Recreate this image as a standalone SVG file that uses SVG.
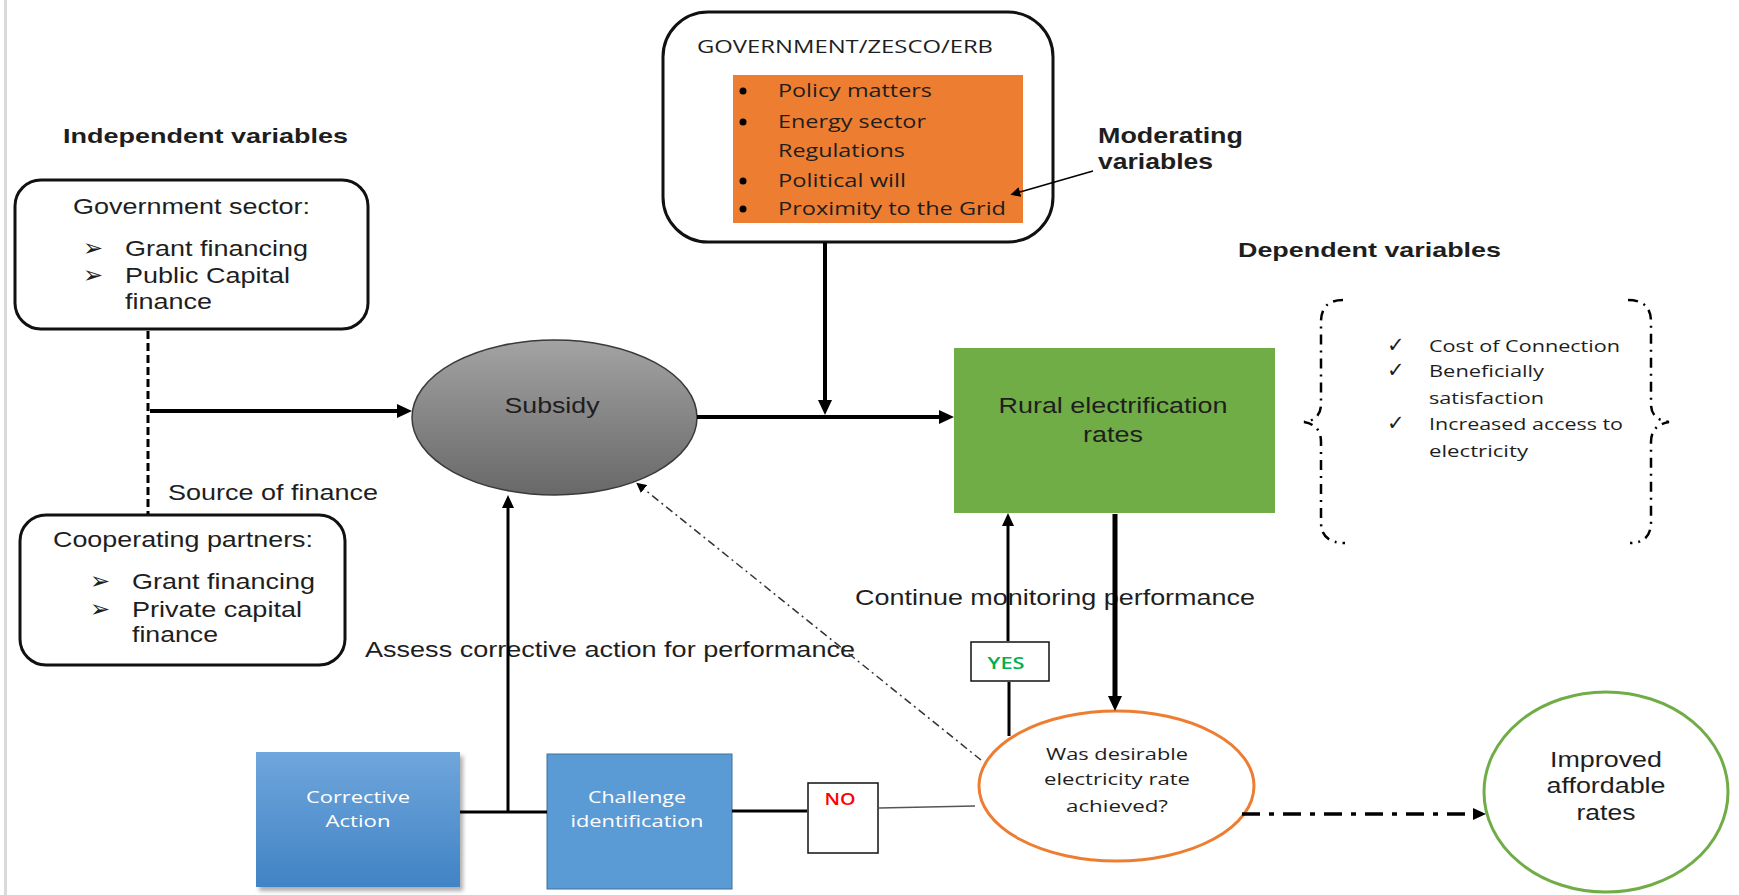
<svg xmlns="http://www.w3.org/2000/svg" width="1739" height="895" viewBox="0 0 1739 895">
<style>
.sans{font-family:"Liberation Sans",Arial,sans-serif;fill:#1e1e1e}
.bold{font-family:"Liberation Sans",Arial,sans-serif;font-weight:bold;fill:#1e1e1e}
.os{font-family:"Open Sans","DejaVu Sans",sans-serif;fill:#1e1e1e}
.sym{font-family:"DejaVu Sans",sans-serif;fill:#1e1e1e}
.box{fill:#fff;stroke:#111;stroke-width:3}
.wire{fill:none;stroke:#000}
</style>
<defs>
<marker id="ahL" markerUnits="userSpaceOnUse" markerWidth="16" markerHeight="14" refX="0" refY="7" orient="auto"><path d="M0,0 L15,7 L0,14 z" fill="#000"/></marker>
<marker id="ahM" markerUnits="userSpaceOnUse" markerWidth="14" markerHeight="12" refX="0" refY="6" orient="auto"><path d="M0,0 L13,6 L0,12 z" fill="#000"/></marker>
<marker id="ahS" markerUnits="userSpaceOnUse" markerWidth="11" markerHeight="10" refX="0" refY="5" orient="auto"><path d="M0,0 L10,5 L0,10 z" fill="#000"/></marker>
<linearGradient id="gGray" x1="0" y1="0" x2="0" y2="1"><stop offset="0" stop-color="#a3a3a3"/><stop offset="1" stop-color="#686868"/></linearGradient>
<linearGradient id="gBlue" x1="0" y1="0" x2="0" y2="1"><stop offset="0" stop-color="#6fa6dc"/><stop offset="1" stop-color="#4183c5"/></linearGradient>
<filter id="shadow" x="-10%" y="-10%" width="130%" height="130%"><feGaussianBlur stdDeviation="2"/></filter>
</defs>
<rect x="0" y="0" width="1739" height="895" fill="#fff"/>
<rect x="4" y="0" width="3" height="895" fill="#dadada"/>

<!-- headings -->
<text class="bold" x="63" y="143" font-size="21" textLength="285" lengthAdjust="spacingAndGlyphs">Independent variables</text>
<text class="bold" x="1098" y="143" font-size="22" textLength="145" lengthAdjust="spacingAndGlyphs">Moderating</text>
<text class="bold" x="1098" y="169" font-size="22" textLength="115" lengthAdjust="spacingAndGlyphs">variables</text>
<text class="bold" x="1238" y="257" font-size="21" textLength="263" lengthAdjust="spacingAndGlyphs">Dependent variables</text>
<text class="sans" x="168" y="500" font-size="22" textLength="210" lengthAdjust="spacingAndGlyphs">Source of finance</text>
<text class="sans" x="365" y="657" font-size="22" textLength="490" lengthAdjust="spacingAndGlyphs">Assess corrective action for performance</text>
<text class="sans" x="855" y="605" font-size="22" textLength="400" lengthAdjust="spacingAndGlyphs">Continue monitoring performance</text>

<g id="gov-zesco">
<rect class="box" x="663" y="12" width="390" height="230" rx="45"/>
<text class="os" x="697" y="53" font-size="19" fill="#262626" textLength="296" lengthAdjust="spacingAndGlyphs">GOVERNMENT/ZESCO/ERB</text>
<rect x="733" y="75" width="290" height="148" fill="#ed7d31"/>
<circle cx="743" cy="91" r="3.5" fill="#000"/>
<circle cx="743" cy="122" r="3.5" fill="#000"/>
<circle cx="743" cy="181" r="3.5" fill="#000"/>
<circle cx="743" cy="209" r="3.5" fill="#000"/>
<text class="os" x="778" y="97" font-size="19" textLength="154" lengthAdjust="spacingAndGlyphs">Policy matters</text>
<text class="os" x="778" y="128" font-size="19" textLength="148" lengthAdjust="spacingAndGlyphs">Energy sector</text>
<text class="os" x="778" y="157" font-size="19" textLength="127" lengthAdjust="spacingAndGlyphs">Regulations</text>
<text class="os" x="778" y="187" font-size="19" textLength="128" lengthAdjust="spacingAndGlyphs">Political will</text>
<text class="os" x="778" y="215" font-size="19" textLength="228" lengthAdjust="spacingAndGlyphs">Proximity to the Grid</text>
</g>

<g id="gov-sector">
<rect class="box" x="15" y="180" width="353" height="149" rx="26"/>
<text class="sans" x="73" y="214" font-size="22" textLength="237" lengthAdjust="spacingAndGlyphs">Government sector:</text>
<text class="sym" x="83" y="256" font-size="24">➢</text>
<text class="sym" x="83" y="283" font-size="24">➢</text>
<text class="sans" x="125" y="256" font-size="22" textLength="183" lengthAdjust="spacingAndGlyphs">Grant financing</text>
<text class="sans" x="125" y="283" font-size="22" textLength="165" lengthAdjust="spacingAndGlyphs">Public Capital</text>
<text class="sans" x="125" y="309" font-size="22" textLength="87" lengthAdjust="spacingAndGlyphs">finance</text>
</g>

<g id="coop-partners">
<rect class="box" x="20" y="515" width="325" height="150" rx="26"/>
<text class="sans" x="53" y="547" font-size="22" textLength="260" lengthAdjust="spacingAndGlyphs">Cooperating partners:</text>
<text class="sym" x="90" y="589" font-size="24">➢</text>
<text class="sym" x="90" y="617" font-size="24">➢</text>
<text class="sans" x="132" y="589" font-size="22" textLength="183" lengthAdjust="spacingAndGlyphs">Grant financing</text>
<text class="sans" x="132" y="617" font-size="22" textLength="170" lengthAdjust="spacingAndGlyphs">Private capital</text>
<text class="sans" x="132" y="642" font-size="22" textLength="86" lengthAdjust="spacingAndGlyphs">finance</text>
</g>

<g id="subsidy">
<ellipse cx="554.5" cy="417.5" rx="142.5" ry="77.5" fill="url(#gGray)" stroke="#3a3a3a" stroke-width="1.5"/>
<text class="sans" x="552" y="413" font-size="22" text-anchor="middle" textLength="95" lengthAdjust="spacingAndGlyphs">Subsidy</text>
</g>

<g id="rural-electrification">
<rect x="954" y="348" width="321" height="165" fill="#70ad47"/>
<text class="sans" x="1113" y="413" font-size="22" text-anchor="middle" textLength="229" lengthAdjust="spacingAndGlyphs">Rural electrification</text>
<text class="sans" x="1113" y="442" font-size="22" text-anchor="middle" textLength="60" lengthAdjust="spacingAndGlyphs">rates</text>
</g>

<g id="dependent-list">
<path d="M1343,300 Q1321,300 1321,322 L1321,404 Q1321,420 1304,422 Q1321,425 1321,442 L1321,522 Q1321,543 1345,543" fill="none" stroke="#000" stroke-width="2.5" stroke-dasharray="10 6 2 6"/>
<path d="M1628,300 Q1651,300 1651,322 L1651,404 Q1651,420 1669,422 Q1651,425 1651,442 L1651,522 Q1651,543 1630,543" fill="none" stroke="#000" stroke-width="2.5" stroke-dasharray="10 6 2 6"/>
<text class="sym" x="1387" y="352" font-size="21">✓</text>
<text class="sym" x="1387" y="377" font-size="21">✓</text>
<text class="sym" x="1387" y="430" font-size="21">✓</text>
<text class="os" x="1429" y="352" font-size="16" textLength="191" lengthAdjust="spacingAndGlyphs">Cost of Connection</text>
<text class="os" x="1429" y="377" font-size="16" textLength="115" lengthAdjust="spacingAndGlyphs">Beneficially</text>
<text class="os" x="1429" y="404" font-size="16" textLength="115" lengthAdjust="spacingAndGlyphs">satisfaction</text>
<text class="os" x="1429" y="430" font-size="16" textLength="194" lengthAdjust="spacingAndGlyphs">Increased access to</text>
<text class="os" x="1429" y="457" font-size="16" textLength="99" lengthAdjust="spacingAndGlyphs">electricity</text>
</g>

<g id="yes-label">
<rect x="971" y="642" width="78" height="39" fill="#fff" stroke="#111" stroke-width="1.5"/>
<text class="os" x="1006" y="669" font-size="17" font-weight="600" style="fill:#00b050" text-anchor="middle" textLength="37" lengthAdjust="spacingAndGlyphs">YES</text>
</g>

<g id="decision">
<ellipse cx="1116.5" cy="786" rx="137.5" ry="75" fill="#fff" stroke="#ed7d31" stroke-width="3"/>
<text class="os" x="1117" y="760" font-size="16.5" text-anchor="middle" textLength="142" lengthAdjust="spacingAndGlyphs">Was desirable</text>
<text class="os" x="1117" y="785" font-size="16.5" text-anchor="middle" textLength="146" lengthAdjust="spacingAndGlyphs">electricity rate</text>
<text class="os" x="1117" y="812" font-size="16.5" text-anchor="middle" textLength="102" lengthAdjust="spacingAndGlyphs">achieved?</text>
</g>

<g id="improved-rates">
<ellipse cx="1606" cy="792" rx="122" ry="100" fill="#fff" stroke="#70ad47" stroke-width="3"/>
<text class="sans" x="1606" y="767" font-size="22" text-anchor="middle" textLength="112" lengthAdjust="spacingAndGlyphs">Improved</text>
<text class="sans" x="1606" y="793" font-size="22" text-anchor="middle" textLength="119" lengthAdjust="spacingAndGlyphs">affordable</text>
<text class="sans" x="1606" y="820" font-size="22" text-anchor="middle" textLength="59" lengthAdjust="spacingAndGlyphs">rates</text>
</g>

<g id="corrective-action">
<rect x="259" y="756" width="204" height="135" fill="#777" opacity="0.6" filter="url(#shadow)"/>
<rect x="256" y="752" width="204" height="135" fill="url(#gBlue)"/>
<text class="os" x="358" y="803" font-size="17" style="fill:#fff" text-anchor="middle" textLength="104" lengthAdjust="spacingAndGlyphs">Corrective</text>
<text class="os" x="358" y="827" font-size="17" style="fill:#fff" text-anchor="middle" textLength="65" lengthAdjust="spacingAndGlyphs">Action</text>
</g>

<g id="challenge-identification">
<rect x="547" y="754" width="185" height="135" fill="#5b9bd5" stroke="#41719c" stroke-width="1"/>
<text class="os" x="637" y="803" font-size="17" style="fill:#fff" text-anchor="middle" textLength="98" lengthAdjust="spacingAndGlyphs">Challenge</text>
<text class="os" x="637" y="827" font-size="17" style="fill:#fff" text-anchor="middle" textLength="133" lengthAdjust="spacingAndGlyphs">identification</text>
</g>

<g id="no-label">
<rect x="808" y="783" width="70" height="70" fill="#fff" stroke="#111" stroke-width="1.5"/>
<text class="os" x="840" y="805" font-size="17" font-weight="600" style="fill:#ff0000" text-anchor="middle" textLength="31" lengthAdjust="spacingAndGlyphs">NO</text>
</g>

<g id="connectors">
<line class="wire" x1="148" y1="331" x2="148" y2="514" stroke-width="3" stroke-dasharray="8 4"/>
<line class="wire" x1="150" y1="411" x2="397" y2="411" stroke-width="4" marker-end="url(#ahL)"/>
<line class="wire" x1="697" y1="417" x2="939" y2="417" stroke-width="4" marker-end="url(#ahL)"/>
<line class="wire" x1="825" y1="243" x2="825" y2="400" stroke-width="4" marker-end="url(#ahL)"/>
<line class="wire" x1="1115" y1="514" x2="1115" y2="696" stroke-width="5" marker-end="url(#ahL)"/>
<line class="wire" x1="1009" y1="736" x2="1009" y2="682" stroke-width="3"/>
<line class="wire" x1="1008" y1="641" x2="1008" y2="526" stroke-width="3" marker-end="url(#ahM)"/>
<line class="wire" x1="460" y1="812" x2="547" y2="812" stroke-width="3"/>
<line class="wire" x1="508" y1="812" x2="508" y2="508" stroke-width="3" marker-end="url(#ahM)"/>
<line class="wire" x1="732" y1="811" x2="807" y2="811" stroke-width="3"/>
<line x1="879" y1="808" x2="975" y2="806" stroke="#555" stroke-width="1.5"/>
<line x1="981" y1="760" x2="644" y2="489" stroke="#333" stroke-width="1.5" stroke-dasharray="8 4 2 4" marker-end="url(#ahS)"/>
<line class="wire" x1="1242" y1="814" x2="1473" y2="814" stroke-width="3.5" stroke-dasharray="18 9 5 9" marker-end="url(#ahM)"/>
<line class="wire" x1="1093" y1="171" x2="1020" y2="192" stroke-width="1.5" marker-end="url(#ahS)"/>
</g>
</svg>
